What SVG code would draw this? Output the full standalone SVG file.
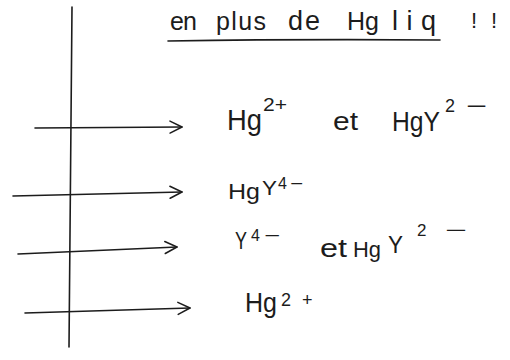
<svg xmlns="http://www.w3.org/2000/svg" width="510" height="360" viewBox="0 0 510 360">
<style>
  .t { font-family: "Liberation Sans", "DejaVu Sans", sans-serif; fill: #1c1c1c; }
  .ln { stroke: #1c1c1c; stroke-width: 1.6; fill: none; stroke-linecap: round; }
</style>
<defs>
  <marker id="head" markerUnits="userSpaceOnUse" markerWidth="20" markerHeight="20" refX="14" refY="10" orient="auto">
    <path d="M2,4 L14,10 L2,16" fill="none" stroke="#1c1c1c" stroke-width="1.5" stroke-linecap="round" stroke-linejoin="round"/>
  </marker>
</defs>
<rect width="510" height="360" fill="#ffffff"/>
<g id="connectors">
  <path id="axis" class="ln" d="M72,7 L69,347"/>
  <path id="arrow1" class="ln" d="M35,128 L182,127" marker-end="url(#head)"/>
  <path id="arrow2" class="ln" d="M13,196 L182,192" marker-end="url(#head)"/>
  <path id="arrow3" class="ln" d="M18,254 L177,247" marker-end="url(#head)"/>
  <path id="arrow4" class="ln" d="M25,313 L190,308" marker-end="url(#head)"/>
</g>
<g id="title">
  <text class="t" x="170" y="30" font-size="25" textLength="27" lengthAdjust="spacing">en</text>
  <text class="t" x="216" y="30" font-size="25" textLength="50" lengthAdjust="spacing">plus</text>
  <text class="t" x="288" y="30" font-size="27" textLength="32" lengthAdjust="spacing">de</text>
  <text class="t" x="347" y="30" font-size="25" textLength="32" lengthAdjust="spacing">Hg</text>
  <text class="t" x="392" y="30" font-size="27" textLength="44" lengthAdjust="spacing">liq</text>
  <path class="ln" d="M168,41 Q300,39 440,40"/>
  <text class="t" x="471" y="28" font-size="22">!</text>
  <text class="t" x="491" y="28" font-size="22">!</text>
</g>
<g id="label1">
  <text class="t" x="227" y="130" font-size="30" textLength="35" lengthAdjust="spacingAndGlyphs">Hg</text>
  <text class="t" x="263" y="111" font-size="18" textLength="24" lengthAdjust="spacingAndGlyphs">2+</text>
  <text class="t" x="333" y="130" font-size="26" textLength="25" lengthAdjust="spacingAndGlyphs">et</text>
  <text class="t" x="392" y="131" font-size="28" textLength="48" lengthAdjust="spacingAndGlyphs">HgY</text>
  <text class="t" x="445" y="112" font-size="18">2</text>
  <text class="t" x="466" y="112" font-size="18" textLength="21" lengthAdjust="spacingAndGlyphs">−</text>
</g>
<g id="label2">
  <text class="t" x="228" y="199" font-size="22" textLength="32" lengthAdjust="spacingAndGlyphs">Hg</text>
  <text class="t" x="262" y="195" font-size="20" textLength="15" lengthAdjust="spacingAndGlyphs">Y</text>
  <text class="t" x="278" y="189" font-size="16">4</text>
  <text class="t" x="290" y="189" font-size="16" textLength="13" lengthAdjust="spacingAndGlyphs">−</text>
</g>
<g id="label3">
  <text class="t" x="235" y="249" font-size="24" textLength="12" lengthAdjust="spacingAndGlyphs">Y</text>
  <text class="t" x="251" y="241" font-size="16">4</text>
  <text class="t" x="264" y="241" font-size="16" textLength="16" lengthAdjust="spacingAndGlyphs">−</text>
  <text class="t" x="320" y="257" font-size="26" textLength="27" lengthAdjust="spacingAndGlyphs">et</text>
  <text class="t" x="353" y="257" font-size="22" textLength="28" lengthAdjust="spacingAndGlyphs">Hg</text>
  <text class="t" x="388" y="253" font-size="24" textLength="15" lengthAdjust="spacingAndGlyphs">Y</text>
  <text class="t" x="417" y="236" font-size="17">2</text>
  <text class="t" x="445" y="236" font-size="17" textLength="22" lengthAdjust="spacingAndGlyphs">−</text>
</g>
<g id="label4">
  <text class="t" x="245" y="312" font-size="28" textLength="32" lengthAdjust="spacingAndGlyphs">Hg</text>
  <text class="t" x="281" y="306" font-size="18">2</text>
  <text class="t" x="302" y="306" font-size="18">+</text>
</g>
</svg>
